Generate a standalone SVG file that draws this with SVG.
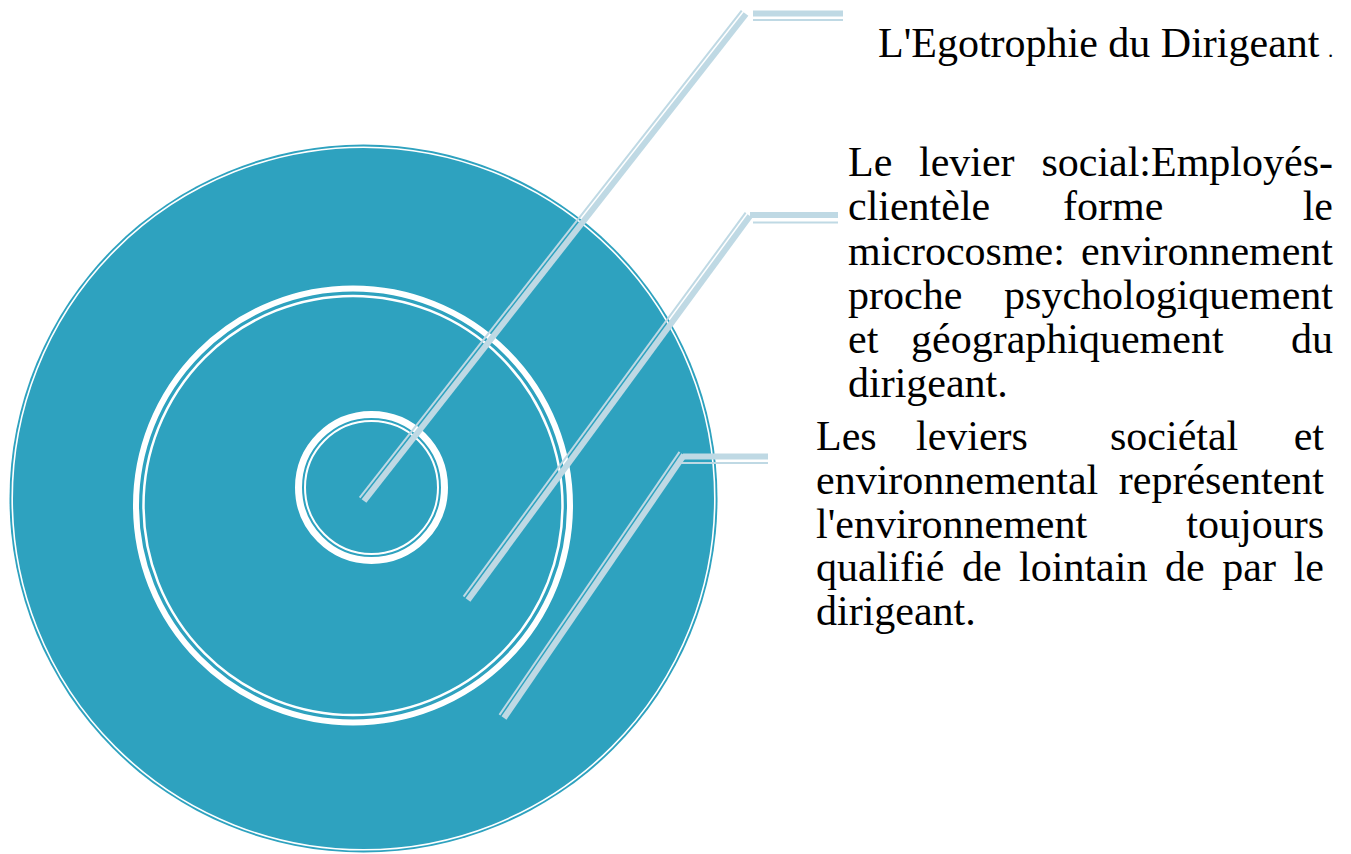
<svg xmlns="http://www.w3.org/2000/svg" width="1351" height="854" viewBox="0 0 1351 854">
<style>
.t{font-size:42px;fill:#000}
.e{text-anchor:end}
.ring{fill:none;stroke:#fff}
.ck{fill:none;stroke:#bfd9e4;stroke-width:6;stroke-linecap:butt;stroke-linejoin:miter}
.cn{fill:none;stroke:#bfd9e4;stroke-width:2;stroke-linecap:butt}
</style>
<rect width="1351" height="854" fill="#fff"/>
<g id="outer-circle">
<circle cx="363.5" cy="498.5" r="354" fill="#2ea2bf"/>
<circle class="ring" cx="363.5" cy="498.5" r="351.3" stroke-width="1.6"/>
</g>
<g id="middle-circle">
<circle class="ring" cx="353" cy="505.5" r="217" stroke-width="6"/>
<circle class="ring" cx="353" cy="505.5" r="209.5" stroke-width="2.5"/>
</g>
<g id="inner-circle">
<circle class="ring" cx="371.5" cy="487.5" r="73" stroke-width="7"/>
<circle class="ring" cx="371.5" cy="487.5" r="66.5" stroke-width="2"/>
</g>
<g id="connectors">
<path class="ck" d="M364,501 L746,14"/>
<path class="cn" d="M359.7,497.6 L741.7,10.6"/>
<path class="ck" d="M753,13.5 H843" stroke-width="7"/>
<path class="cn" d="M753,20 H843"/>
<path class="ck" d="M468,600 L750,216"/>
<path class="cn" d="M463.6,596.7 L745.6,212.7"/>
<path class="ck" d="M750,215 H838"/>
<path class="cn" d="M753,222.5 H838"/>
<path class="ck" d="M504,718 L684,455"/>
<path class="cn" d="M499.5,714.9 L679.5,451.9"/>
<path class="ck" d="M683,456.5 H768" stroke-width="7"/>
<path class="cn" d="M680,463 H768"/>
</g>
<g font-family="Liberation Serif, Times New Roman, DejaVu Serif, serif">
<g id="label-egotrophie">
<text class="t" x="878" y="57">L'Egotrophie du Dirigeant</text>
<text x="1328" y="57" font-size="21">.</text>
</g>
<g id="label-social">
<text class="t" x="848" y="176">Le</text>
<text class="t" x="919" y="176">levier</text>
<text class="t e" x="1333" y="176">social:Employés-</text>
<text class="t" x="848" y="220">clientèle</text>
<text class="t" x="1063" y="220">forme</text>
<text class="t e" x="1333" y="220">le</text>
<text class="t" x="848" y="265">microcosme:</text>
<text class="t e" x="1333" y="265">environnement</text>
<text class="t" x="848" y="309">proche</text>
<text class="t e" x="1333" y="309">psychologiquement</text>
<text class="t" x="848" y="353">et</text>
<text class="t" x="911" y="353">géographiquement</text>
<text class="t e" x="1333" y="353">du</text>
<text class="t" x="848" y="397">dirigeant.</text>
</g>
<g id="label-societal">
<text class="t" x="816" y="450">Les</text>
<text class="t" x="916" y="450">leviers</text>
<text class="t" x="1110" y="450">sociétal</text>
<text class="t e" x="1324" y="450">et</text>
<text class="t" x="816" y="494">environnemental</text>
<text class="t e" x="1324" y="494">représentent</text>
<text class="t" x="816" y="538">l'environnement</text>
<text class="t e" x="1324" y="538">toujours</text>
<text class="t" x="816" y="581">qualifié</text>
<text class="t" x="961.9" y="581">de</text>
<text class="t" x="1019.1" y="581">lointain</text>
<text class="t" x="1165.1" y="581">de</text>
<text class="t" x="1222.3" y="581">par</text>
<text class="t e" x="1324" y="581">le</text>
<text class="t" x="816" y="625">dirigeant.</text>
</g>
</g>
</svg>
